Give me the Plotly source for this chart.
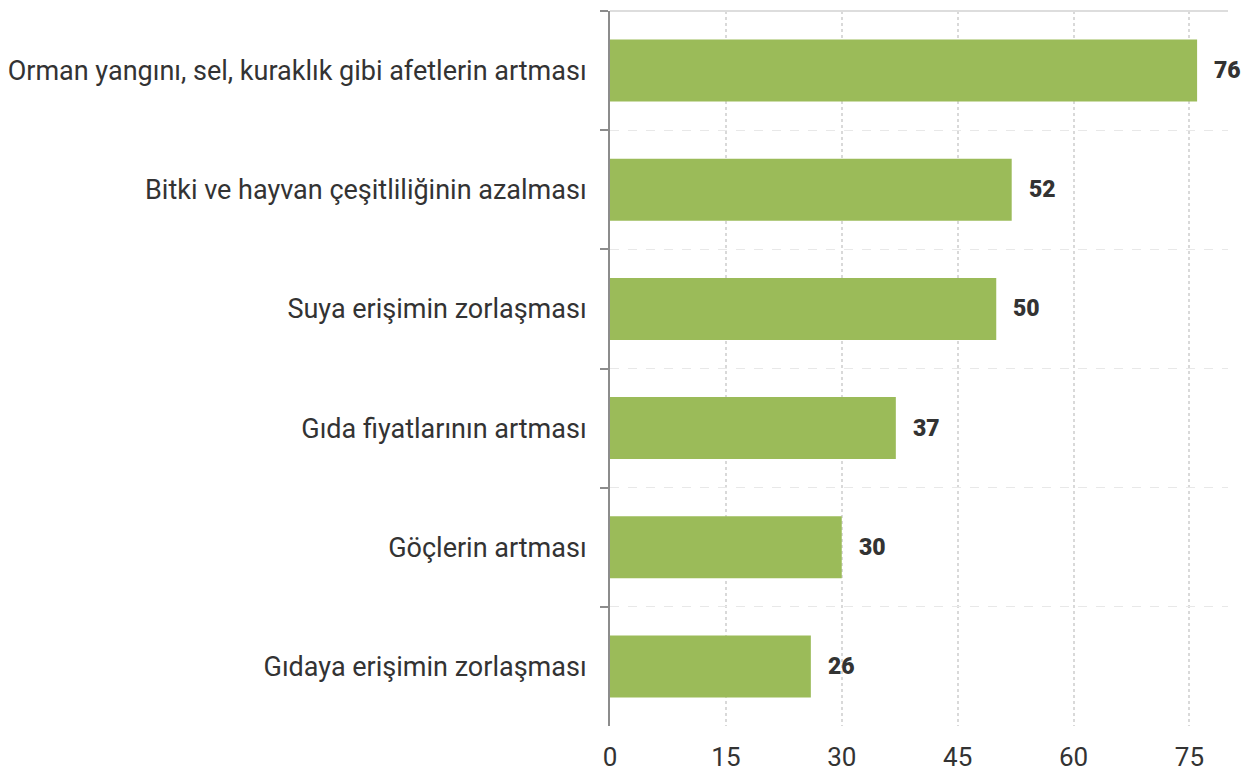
import plotly.graph_objects as go

categories = [
    "Orman yangını, sel, kuraklık gibi afetlerin artması",
    "Bitki ve hayvan çeşitliliğinin azalması",
    "Suya erişimin zorlaşması",
    "Gıda fiyatlarının artması",
    "Göçlerin artması",
    "Gıdaya erişimin zorlaşması",
]
values = [76, 52, 50, 37, 30, 26]
x_ticks = [0, 15, 30, 45, 60, 75]

fig = go.Figure()
fig.add_trace(go.Bar(
    x=values, y=categories, orientation="h",
    marker=dict(color="#9bbb59", line=dict(width=0)),
    hoverinfo="skip",
))

for c, v in zip(categories, values):
    fig.add_annotation(
        x=v, y=c, text=str(v), showarrow=False,
        xanchor="left", xshift=15, yshift=0,
        font=dict(family="Roboto", size=23, color="#333333", weight=900),
    )

# top border line
fig.add_shape(type="line", xref="paper", yref="paper", x0=0, x1=1, y0=1, y1=1,
              line=dict(color="#dddddd", width=2))

fig.update_layout(
    width=1257, height=773,
    margin=dict(l=610, r=29, t=11, b=47),
    plot_bgcolor="white", paper_bgcolor="white",
    bargap=0.48,
    showlegend=False,
    font=dict(family="Roboto", color="#333333"),
    xaxis=dict(
        range=[0, 80], tickvals=x_ticks, ticktext=[str(t) for t in x_ticks],
        showgrid=True, gridcolor="#d9d9d9", griddash="dot", gridwidth=1.5,
        zeroline=False, showline=False, ticks="",
        ticklabelstandoff=13, automargin=False,
        tickfont=dict(family="Roboto", size=26, color="#333333"),
    ),
    yaxis=dict(
        categoryorder="array", categoryarray=categories, autorange="reversed",
        tickson="boundaries", ticks="outside", ticklen=8, tickwidth=2, tickcolor="#8c8c8c",
        showline=True, linecolor="#8c8c8c", linewidth=2,
        showgrid=True, gridcolor="#e8e8e8", griddash="dash", gridwidth=1,
        zeroline=False, automargin=False,
        ticklabelstandoff=16,
        tickfont=dict(family="Roboto", size=27, color="#333333"),
    ),
)

fig.write_html("out.html", config={"displayModeBar": False},
               post_script="document.body.style.margin='0px';")
